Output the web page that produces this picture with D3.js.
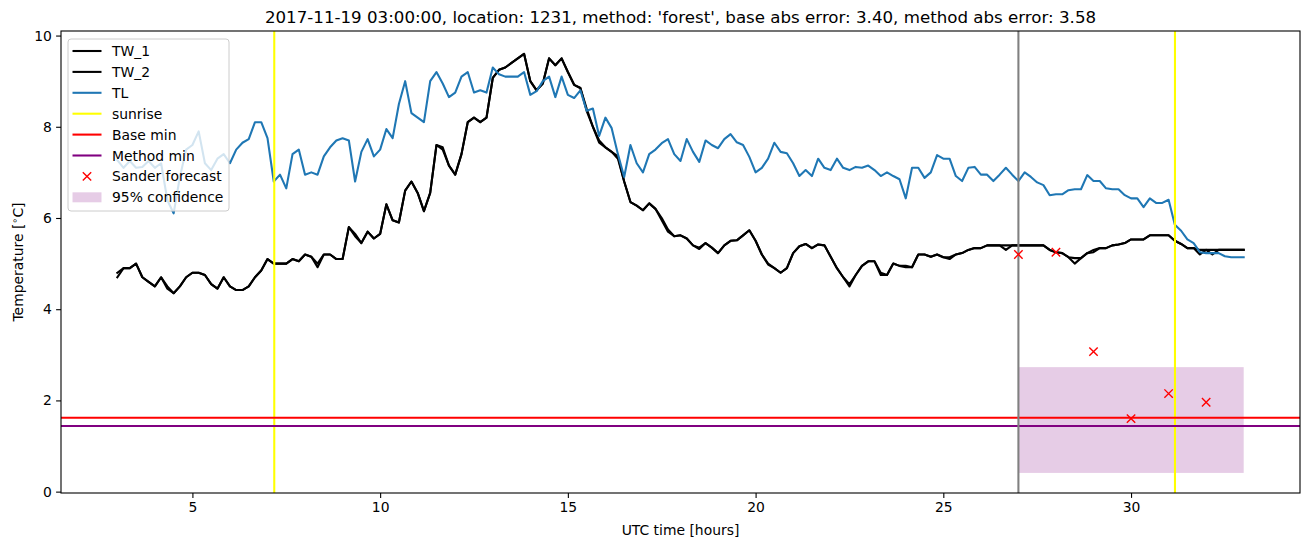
<!DOCTYPE html>
<html>
<head>
<meta charset="utf-8">
<script src="https://cdn.jsdelivr.net/npm/d3@7"></script>
<style>
  html, body { margin: 0; padding: 0; background: #fff; }
  svg { display: block; font-family: "DejaVu Sans", sans-serif; }
</style>
</head>
<body>
<svg id="chart" width="1310" height="547"></svg>
<script>
// ---------------- data ----------------
const titleText = "2017-11-19 03:00:00, location: 1231, method: 'forest', base abs error: 3.40, method abs error: 3.58";
const startHour = 3;
const stepHours = 1 / 6; // 10-minute sampling

const TW_1 = [
4.7,4.9,4.9,5.0,4.7,4.6,4.5,4.7,4.45,4.35,
4.5,4.7,4.8,4.8,4.75,4.55,4.45,4.7,4.5,4.42,
4.42,4.5,4.7,4.85,5.1,5.0,5.0,5.0,5.1,5.05,
5.2,5.15,4.92,5.2,5.2,5.1,5.1,5.8,5.6,5.45,
5.7,5.55,5.65,6.3,5.95,5.9,6.6,6.8,6.55,6.15,
6.55,7.6,7.55,7.15,6.95,7.4,8.1,8.2,8.1,8.2,
9.07,9.25,9.3,9.4,9.5,9.6,9.0,8.8,8.95,9.5,
9.35,9.5,9.2,8.92,8.85,8.35,8.0,7.65,7.55,7.45,
7.3,6.8,6.35,6.27,6.17,6.32,6.2,5.95,5.7,5.6,
5.62,5.55,5.4,5.32,5.45,5.35,5.23,5.4,5.5,5.51,
5.62,5.73,5.5,5.2,4.98,4.9,4.8,4.9,5.23,5.38,
5.43,5.34,5.42,5.4,5.15,4.9,4.7,4.55,4.75,4.95,
5.05,5.05,4.8,4.75,5.0,4.95,4.92,4.92,5.2,5.2,
5.15,5.2,5.14,5.14,5.2,5.23,5.3,5.34,5.34,5.4,
5.4,5.4,5.4,5.4,5.4,5.4,5.4,5.4,5.4,5.3,
5.25,5.23,5.14,5.12,5.12,5.23,5.3,5.34,5.34,5.4,
5.42,5.45,5.53,5.53,5.53,5.62,5.62,5.62,5.62,5.5,
5.43,5.34,5.34,5.3,5.3,5.3,5.3,5.3,5.3,5.3,
5.3];

const TW_2 = [
4.8,4.9,4.9,5.0,4.7,4.6,4.5,4.7,4.5,4.35,
4.5,4.7,4.8,4.8,4.75,4.55,4.45,4.7,4.5,4.42,
4.42,4.5,4.7,4.85,5.1,5.0,5.0,5.0,5.1,5.05,
5.2,5.15,5.0,5.2,5.2,5.1,5.1,5.8,5.65,5.45,
5.7,5.55,5.65,6.3,5.95,5.9,6.6,6.8,6.55,6.15,
6.55,7.6,7.5,7.15,6.95,7.4,8.1,8.2,8.1,8.2,
9.07,9.25,9.3,9.4,9.5,9.6,9.0,8.8,8.95,9.5,
9.35,9.5,9.2,8.92,8.85,8.4,8.0,7.7,7.55,7.45,
7.35,6.8,6.35,6.27,6.17,6.32,6.2,6.0,5.75,5.6,
5.62,5.55,5.4,5.35,5.45,5.35,5.23,5.4,5.5,5.51,
5.62,5.73,5.5,5.2,5.0,4.9,4.8,4.9,5.23,5.38,
5.43,5.34,5.42,5.4,5.15,4.9,4.7,4.5,4.75,4.95,
5.05,5.05,4.75,4.75,5.0,4.95,4.95,4.92,5.2,5.2,
5.15,5.2,5.14,5.1,5.2,5.23,5.3,5.34,5.34,5.4,
5.4,5.4,5.3,5.4,5.4,5.4,5.4,5.4,5.4,5.3,
5.25,5.23,5.14,5.0,5.12,5.23,5.25,5.34,5.34,5.4,
5.42,5.45,5.53,5.53,5.53,5.62,5.62,5.62,5.62,5.5,
5.43,5.34,5.34,5.2,5.3,5.2,5.3,5.3,5.3,5.3,
5.3];

const TL = [
7.27,7.1,7.25,7.1,7.12,7.25,7.1,7.2,6.39,6.1,
6.9,7.5,7.6,7.9,7.2,7.05,7.3,7.4,7.2,7.5,
7.65,7.73,8.1,8.1,7.75,6.8,6.95,6.65,7.4,7.5,
6.95,7.0,6.95,7.35,7.55,7.7,7.75,7.7,6.8,7.45,
7.73,7.35,7.5,7.95,7.75,8.5,9.0,8.3,8.2,8.1,
9.0,9.2,8.95,8.65,8.75,9.1,9.2,8.75,8.8,8.75,
9.3,9.15,9.1,9.1,9.1,9.2,8.7,8.78,9.0,9.1,
8.65,9.1,8.7,8.63,8.8,8.35,8.4,7.8,8.2,7.97,
7.4,6.9,7.6,7.2,7.0,7.4,7.5,7.64,7.73,7.4,
7.25,7.73,7.45,7.23,7.7,7.6,7.53,7.73,7.84,7.66,
7.6,7.34,7.0,7.1,7.3,7.65,7.45,7.42,7.2,6.92,
7.05,6.92,7.3,7.1,7.05,7.3,7.1,7.05,7.12,7.1,
7.15,7.05,6.92,7.0,6.92,6.85,6.43,7.1,7.1,6.88,
7.0,7.38,7.3,7.3,6.92,6.81,7.1,7.12,6.95,6.95,
6.81,6.95,7.1,6.95,6.81,7.0,6.9,6.78,6.72,6.5,
6.52,6.52,6.61,6.63,6.63,6.94,6.81,6.81,6.65,6.63,
6.63,6.5,6.43,6.43,6.24,6.43,6.33,6.33,6.4,5.85,
5.72,5.53,5.45,5.25,5.23,5.23,5.23,5.16,5.14,5.14,
5.14];

const sunriseHours = [7.18, 31.17];
const forecastTimeHour = 27.0;
const baseMin = 1.62;
const methodMin = 1.44;
const sanderHours = [27, 28, 29, 30, 31, 32];
const sanderValues = [5.2, 5.25, 3.07, 1.6, 2.15, 1.96];
const confStartHour = 27.0;
const confEndHour = 33.0;
const confLow = 0.41;
const confHigh = 2.73;

const xTicks = [5, 10, 15, 20, 25, 30];
const yTicks = [0, 2, 4, 6, 8, 10];
const legendLabels = ["TW_1", "TW_2", "TL", "sunrise", "Base min", "Method min", "Sander forecast", "95% confidence"];

// ---------------- layout ----------------
const svg = d3.select("#chart");
const L = 61, R = 1300, T = 31, B = 493;
const x = d3.scaleLinear().domain([1.5, 34.5]).range([L, R]);
const y = d3.scaleLinear().domain([-0.03, 10.1]).range([B, T]);

const times = TW_1.map((_, i) => startHour + i * stepHours);
const FS = 13.9;

const plot = svg.append("g");
plot.append("defs").append("clipPath").attr("id", "clip")
  .append("rect").attr("x", L).attr("y", T).attr("width", R - L).attr("height", B - T);
const g = plot.append("g").attr("clip-path", "url(#clip)");

// confidence fill (patches below lines)
g.append("rect")
  .attr("x", x(confStartHour)).attr("y", y(confHigh))
  .attr("width", x(confEndHour) - x(confStartHour))
  .attr("height", y(confLow) - y(confHigh))
  .attr("fill", "purple").attr("fill-opacity", 0.2);

const line = d3.line().x((d, i) => x(times[i])).y(d => y(d));
function drawSeries(arr, color) {
  g.append("path").datum(arr).attr("d", line)
    .attr("fill", "none").attr("stroke", color).attr("stroke-width", 2.08)
    .attr("stroke-linejoin", "round").attr("stroke-linecap", "square");
}
drawSeries(TW_1, "black");
drawSeries(TW_2, "black");
drawSeries(TL, "#1f77b4");

// sunrise lines
sunriseHours.forEach(h => {
  g.append("line").attr("x1", x(h)).attr("x2", x(h)).attr("y1", T).attr("y2", B)
    .attr("stroke", "yellow").attr("stroke-width", 2.08);
});
// base/method min
g.append("line").attr("x1", L).attr("x2", R).attr("y1", y(baseMin)).attr("y2", y(baseMin))
  .attr("stroke", "red").attr("stroke-width", 2.08);
g.append("line").attr("x1", L).attr("x2", R).attr("y1", y(methodMin)).attr("y2", y(methodMin))
  .attr("stroke", "purple").attr("stroke-width", 2.08);
// forecast time
g.append("line").attr("x1", x(forecastTimeHour)).attr("x2", x(forecastTimeHour)).attr("y1", T).attr("y2", B)
  .attr("stroke", "gray").attr("stroke-width", 2.08);

// Sander forecast markers
function xMarker(sel, cx, cy, r) {
  sel.append("path")
    .attr("d", `M${cx - r},${cy - r}L${cx + r},${cy + r}M${cx - r},${cy + r}L${cx + r},${cy - r}`)
    .attr("stroke", "red").attr("stroke-width", 1.4).attr("fill", "none");
}
sanderHours.forEach((h, i) => xMarker(g, x(h), y(sanderValues[i]), 4.2));

// ---------------- axes ----------------
const xAxis = d3.axisBottom(x).tickValues(xTicks).tickSize(4.9).tickPadding(4.2);
const yAxis = d3.axisLeft(y).tickValues(yTicks).tickSize(4.9).tickPadding(4.2);
const gx = svg.append("g").attr("transform", `translate(0,${B})`).call(xAxis);
const gy = svg.append("g").attr("transform", `translate(${L},0)`).call(yAxis);
[gx, gy].forEach(a => {
  a.select(".domain").remove();
  a.selectAll("text").attr("font-family", "DejaVu Sans").attr("font-size", FS).attr("fill", "black");
  a.selectAll("line").attr("stroke", "black").attr("stroke-width", 1.1);
});

// spines
svg.append("rect").attr("x", L).attr("y", T).attr("width", R - L).attr("height", B - T)
  .attr("fill", "none").attr("stroke", "black").attr("stroke-width", 1.1);

// title & labels
svg.append("text").attr("x", (L + R) / 2).attr("y", 23).attr("text-anchor", "middle")
  .attr("font-size", 16.67).text(titleText);
svg.append("text").attr("x", (L + R) / 2).attr("y", 535).attr("text-anchor", "middle")
  .attr("font-size", FS).text("UTC time [hours]");
const yl = svg.append("text").attr("transform", `translate(23,${(T + B) / 2}) rotate(-90)`)
  .attr("text-anchor", "middle").attr("font-size", FS);
yl.append("tspan").text("Temperature [");
yl.append("tspan").attr("font-size", 9.7).attr("dy", -5).text("\u2218");
yl.append("tspan").attr("dy", 5).text("C]");

// ---------------- legend ----------------
const lg = svg.append("g");
lg.append("rect").attr("x", 68).attr("y", 39).attr("width", 161).attr("height", 172)
  .attr("rx", 3).attr("fill", "white").attr("fill-opacity", 0.8)
  .attr("stroke", "#cccccc").attr("stroke-width", 1);
const legendColors = ["black", "black", "#1f77b4", "yellow", "red", "purple", null, null];
legendLabels.forEach((lab, i) => {
  const cy = 51 + i * 20.9;
  if (i < 6) {
    lg.append("line").attr("x1", 72.5).attr("x2", 101.5).attr("y1", cy).attr("y2", cy)
      .attr("stroke", legendColors[i]).attr("stroke-width", 2.08);
  } else if (i === 6) {
    xMarker(lg, 87, cy, 4.2);
  } else {
    lg.append("rect").attr("x", 72.5).attr("y", cy - 5).attr("width", 29).attr("height", 10)
      .attr("fill", "purple").attr("fill-opacity", 0.2);
  }
  lg.append("text").attr("x", 112).attr("y", cy + 5).attr("font-size", FS).text(lab);
});
</script>
</body>
</html>
